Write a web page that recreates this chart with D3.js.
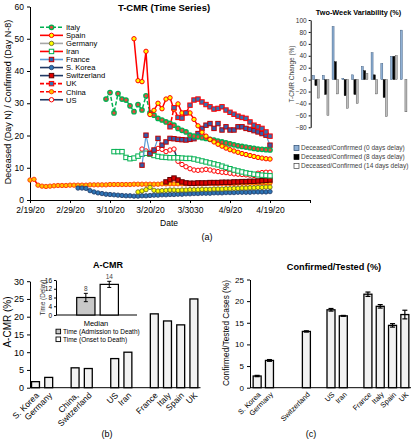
<!DOCTYPE html>
<html><head><meta charset="utf-8">
<script src="https://d3js.org/d3.v7.min.js"></script>
<style>
html,body{margin:0;padding:0;background:#fff;}
svg{display:block;}
text{font-family:"Liberation Sans",Arial,sans-serif;}
</style></head>
<body>
<svg id="chart" width="413" height="440"></svg>
<script>
// ---------------- DATA ----------------
const countries = ["Italy","Spain","Germany","Iran","France","S. Korea","Switzerland","UK","China","US"];
const startDates = ["2020-03-09","2020-03-16","2020-03-17","2020-03-11","2020-03-18","2020-03-02","2020-03-24","2020-03-25","2020-02-19","2020-03-18"];

const italyValues = [31.3,33.3,27.0,33.0,31.3,31.0,29.2,27.4,29.6,27.9,32.3,
  27.0,26.3,25.3,24.8,24.2,23.8,23.2,22.2,21.6,21.1,
  20.1,19.8,19.6,19.3,19.1,18.8,18.6,18.3,18.0,17.7,
  17.4,17.1,16.8,16.6,16.4,16.2,16.0,15.8,15.7,15.6,15.5];
const spainValues = [50.0,37.0,36.7,46.1,
  26.5,27.8,30.0,28.3,31.3,31.7,28.0,29.8,27.0,27.0,
  27.0,25.0,23.0,21.0,19.8,18.8,18.0,17.3,16.7,16.1,
  15.6,15.2,14.8,14.4,14.1,13.8,13.5,13.2,13.0,12.8,12.7];
const germanyValues = [2.5,2.8,3.2,3.9,
  3.0,2.8,2.9,3.0,3.1,3.1,3.0,3.1,3.1,3.2,
  3.2,3.2,3.3,3.3,3.3,3.4,3.4,3.4,3.5,3.5,
  3.6,3.6,3.7,3.7,3.8,3.8,3.9,3.9,4.0,4.0];
const iranValues = [15.0,15.0,15.0,13.2,12.8,13.0,13.6,14.2,14.5,
  14.2,13.8,13.5,13.3,13.2,13.1,13.1,13.1,13.0,12.9,
  12.9,12.7,12.4,12.1,11.8,11.5,11.2,10.9,10.5,10.1,
  9.7,9.3,9.0,8.7,8.4,8.2,8.0,7.8,7.7,7.6,7.5];
const franceValues = [10.8,20.1,
  14.4,15.5,19.1,17.0,18.0,19.1,19.0,18.8,18.7,18.6,
  18.8,19.0,20.6,22.2,23.2,23.7,22.2,23.7,21.7,22.7,
  21.7,21.7,22.7,22.7,22.2,21.9,21.5,21.1,20.6,20.1,17.0];
const koreaValues = [3.7,3.7,3.6,2.9,2.5,2.2,2.0,1.8,1.7,
  1.6,1.5,1.4,1.3,1.3,1.2,1.2,1.3,1.3,1.4,
  1.5,1.5,1.6,1.6,1.7,1.7,1.8,1.8,1.9,1.9,
  2.0,2.0,2.1,2.1,2.1,2.2,2.2,2.2,2.3,2.3,
  2.3,2.4,2.4,2.4,2.4,2.5,2.5,2.5,2.5,2.6];
const switzerlandValues = [5.6,6.3,6.8,6.2,5.6,5.3,5.2,
  5.2,5.3,5.3,5.3,5.4,5.4,5.4,5.5,5.5,5.5,
  5.6,5.6,5.7,5.7,5.8,5.8,5.9,6.0,6.1,6.2];
const ukValues = [22.7,28.6,25.6,25.4,27.0,29.4,
  31.0,31.3,30.4,29.6,28.9,28.2,28.4,28.9,27.9,27.2,
  26.6,26.0,25.6,25.3,24.2,23.2,22.7,22.2,21.1,19.8];
const chinaValues = [6.2,6.4,4.6,4.3,4.2,4.3,4.4,4.5,4.5,4.5,
  4.6,4.6,4.6,4.6,4.6,4.7,4.7,4.7,4.7,4.7,
  4.8,4.8,4.8,4.8,4.8,4.8,4.9,4.9,4.9,4.9,
  4.9,4.9,4.9,5.0,5.0,5.0,5.0,5.0,5.0,5.0,
  5.0,5.0,5.0,5.0,5.1,5.1,5.1,5.1,5.1,5.1,
  5.1,5.1,5.2,5.2,5.2,5.2,5.2,5.3,5.3,5.3,5.3];
const usValues = [15.8,15.2,14.8,15.2,16.0,15.7,15.0,15.5,15.8,12.0,11.0,10.3,9.7,9.3,
  9.2,9.3,9.5,9.3,9.0,8.8,8.6,8.5,8.3,8.1,8.0,7.9,7.8,7.7,7.6,8.3,8.5,8.6,8.6];

const dateTickValues = ["2020-02-19","2020-02-29","2020-03-10","2020-03-20","2020-03-30","2020-04-09","2020-04-19","2020-04-29"];
const dateTickLabels = ["2/19/20","2/29/20","3/10/20","3/20/20","3/3030","4/9/20","4/19/20",""];
const mainYTicks = [0,10,20,30,40,50,60];

const variabilityLabels = ["Deceased/Confirmed (0 days delay)","Deceased/Confirmed (8 days delay)","Deceased/Confirmed (14 days delay)"];
const variability0 = [7,7,89,2,8,22,45,27,39,83];
const variability8 = [-10,-25,30,-27,-25,15,8,-30,39,0];
const variability14 = [-31,-60,-24,-48,-40,10,-24,-62,40,-54];
const variabilityTicks = [-80,-60,-40,-20,0,20,40,60,80,100];

const barSlots = ["S. Korea","Germany","gap1","China","Switzerland","gap2","US","Iran","gap3","France","Italy","Spain","UK"];
const acmrLabels = ["S. Korea","Germany","","China,","Switzerland","","US","Iran","","France","Italy","Spain","UK"];
const acmrValues = [1.7,2.9,null,5.6,5.4,null,8.2,10.0,null,20.8,18.8,17.7,25.0];
const acmrTicks = [0,5,10,15,20,25,30];

const delayCategories = ["Time (Admission to Death)","Time (Onset to Death)"];
const delayValues = [8,14];
const delayErrors = [1.9,1.4];
const delayTicks = [0,4,8,12,16];

const testedLabels = ["S. Korea","Germany","","","Switzerland","","US","Iran","","France","Italy","Spain","UK"];
const testedValues = [2.7,6.3,null,null,13.0,null,18.0,16.6,null,21.6,18.8,14.4,16.9];
const testedErrors = [0.15,0.2,null,null,0.15,null,0.3,0.1,null,0.5,0.4,0.4,1.0];
const testedTicks = [0,5,10,15,20,25];

// ---------------- STYLES ----------------
const seriesValues = [italyValues,spainValues,germanyValues,iranValues,franceValues,koreaValues,switzerlandValues,ukValues,chinaValues,usValues];
const seriesStyles = {
  "Italy":{line:"#00b050",dash:"4,2",legendLine:"#00b050",shape:"circle",fill:"#e8463c",stroke:"#00b050",sw:1.3},
  "Spain":{line:"#ff0000",dash:null,legendLine:"#ff0000",shape:"circle",fill:"#ffff00",stroke:"#ff0000",sw:1},
  "Germany":{line:"#a6a6a6",dash:null,legendLine:"#a6a6a6",shape:"circle",fill:"#ffff00",stroke:"#5a5a20",sw:0.8},
  "Iran":{line:"#6fd07f",dash:null,legendLine:"#ff0000",shape:"square",fill:"#ffffff",stroke:"#00b050",sw:1},
  "France":{line:"#5b9bd5",dash:null,legendLine:"#5b9bd5",shape:"square",fill:"#2f5fb0",stroke:"#c00000",sw:1},
  "S. Korea":{line:"#1f3864",dash:null,legendLine:"#1f3864",shape:"circle",fill:"#2e75b6",stroke:"#1f3864",sw:0.8},
  "Switzerland":{line:"#1f3864",dash:null,legendLine:"#1f3864",shape:"square",fill:"#e00000",stroke:"#600000",sw:1},
  "UK":{line:"#ff0000",dash:"4,2",legendLine:"#ff0000",shape:"square",fill:"#2e75b6",stroke:"#ff0000",sw:1},
  "China":{line:"#ff0000",dash:"4,2",legendLine:"#ff0000",shape:"circle",fill:"#ffc000",stroke:"#ff3300",sw:0.9},
  "US":{line:"#1f3864",dash:null,legendLine:"#1f3864",shape:"circle",fill:"#ffffff",stroke:"#ff0000",sw:1}
};
const drawOrder = ["US","China","Switzerland","S. Korea","Germany","Iran","France","Italy","Spain","UK"];

const svg = d3.select("#chart");
const parseDate = d3.utcParse("%Y-%m-%d");

function styleAxis(g, size, family){
  g.attr("font-family", family || "Liberation Sans, Arial, sans-serif").attr("font-size", size);
  g.selectAll("path,line").attr("stroke","#000");
  g.selectAll("text").attr("fill","#000");
}
function marker(sel, st, x, y){
  if(st.shape==="circle"){
    sel.append("circle").attr("cx",x).attr("cy",y).attr("r",2.2)
      .attr("fill",st.fill).attr("stroke",st.stroke).attr("stroke-width",st.sw);
  } else {
    sel.append("rect").attr("x",x-2.2).attr("y",y-2.2).attr("width",4.4).attr("height",4.4)
      .attr("fill",st.fill).attr("stroke",st.stroke).attr("stroke-width",st.sw);
  }
}

// ---------------- PANEL A: T-CMR time series ----------------
const xMain = d3.scaleUtc().domain([parseDate("2020-02-19"), parseDate("2020-04-29")]).range([30,310]);
const yMain = d3.scaleLinear().domain([0,60]).range([200,6.5]);

const gxA = svg.append("g").attr("transform","translate(0,200)")
  .call(d3.axisBottom(xMain).tickValues(dateTickValues.map(parseDate)).tickFormat((d,i)=>dateTickLabels[i]).tickSize(3).tickSizeOuter(0).tickPadding(4));
styleAxis(gxA, 8.5);
const gyA = svg.append("g").attr("transform","translate(30,0)")
  .call(d3.axisLeft(yMain).tickValues(mainYTicks).tickSize(3).tickSizeOuter(0).tickPadding(3));
styleAxis(gyA, 8.5);

const lineGen = d3.line().x(d=>xMain(d.date)).y(d=>yMain(d.v));
const plotA = svg.append("g");
drawOrder.forEach(name=>{
  const i = countries.indexOf(name);
  const st = seriesStyles[name];
  const start = parseDate(startDates[i]);
  const pts = seriesValues[i].map((v,k)=>({date:d3.utcDay.offset(start,k), v}));
  plotA.append("path").datum(pts).attr("d",lineGen).attr("fill","none")
    .attr("stroke",st.line).attr("stroke-width",name==="France"?1.2:1.5)
    .attr("stroke-dasharray",st.dash);
  const mg = plotA.append("g");
  pts.forEach(p=>marker(mg, st, xMain(p.date), yMain(p.v)));
});

// legend
const legA = svg.append("g");
countries.forEach((name,i)=>{
  const st = seriesStyles[name];
  const y = 27.3 + i*8.05;
  legA.append("line").attr("x1",40).attr("x2",63).attr("y1",y).attr("y2",y)
    .attr("stroke",st.legendLine).attr("stroke-width",1.6).attr("stroke-dasharray",st.dash);
  marker(legA, st, 51.5, y);
  legA.append("text").attr("x",66).attr("y",y+2.8).attr("font-size",7.6).attr("fill","#000").text(name);
});

svg.append("text").attr("x",164).attr("y",11).attr("text-anchor","middle").attr("font-size",9.5).attr("font-weight","bold").text("T-CMR (Time Series)");
svg.append("text").attr("transform","translate(11,102) rotate(-90)").attr("text-anchor","middle").attr("font-size",9).text("Deceased (Day N) / Confirmed (Day N-8)");
svg.append("text").attr("x",169).attr("y",225.5).attr("text-anchor","middle").attr("font-size",8.5).text("Date");
svg.append("text").attr("x",207).attr("y",239.5).attr("text-anchor","middle").attr("font-size",9).text("(a)");

// ---------------- INSET: Two-week variability ----------------
const xVar = d3.scaleBand().domain(countries).range([311,408.5]);
const yVar = d3.scaleLinear().domain([-80,100]).range([127.3,20]);
const gyV = svg.append("g").attr("transform","translate(310.7,0)")
  .call(d3.axisLeft(yVar).tickValues(variabilityTicks).tickSize(2).tickSizeOuter(0).tickPadding(2));
styleAxis(gyV, 6.5);
gyV.selectAll("text").attr("fill","#333");
const varSeries = [variability0, variability8, variability14];
const varFill = ["#8fb0d4","#000000","#bfbfbf"];
const varStroke = ["#2a4a6f","#000000","#404040"];
const varOffset = [-2.3,0,2.3];
varSeries.forEach((vals,s)=>{
  svg.append("g").selectAll("rect").data(vals).join("rect")
    .attr("x",(d,i)=>xVar(countries[i])+xVar.bandwidth()/2+varOffset[s]-1)
    .attr("width",2)
    .attr("y",d=>yVar(Math.max(0,d)))
    .attr("height",d=>Math.abs(yVar(d)-yVar(0)))
    .attr("fill",varFill[s]).attr("stroke",varStroke[s]).attr("stroke-width",0.4);
});
svg.append("text").attr("x",358.5).attr("y",14.5).attr("text-anchor","middle").attr("font-size",7.3).attr("font-weight","bold").text("Two-Week Variability (%)");
svg.append("text").attr("transform","translate(294,74) rotate(-90)").attr("text-anchor","middle").attr("font-size",6.5).attr("fill","#404040").text("T-CMR Change (%)");
const legV = svg.append("g");
variabilityLabels.forEach((lab,s)=>{
  const y = 148 + s*9;
  legV.append("rect").attr("x",294).attr("y",y-2.5).attr("width",5).attr("height",5)
    .attr("fill",s===2?"#ffffff":varFill[s]).attr("stroke",s===2?"#404040":varStroke[s]).attr("stroke-width",0.7);
  legV.append("text").attr("x",301).attr("y",y+2.3).attr("font-size",6.5).attr("fill","#404040").text(lab);
});

// ---------------- PANEL B: A-CMR ----------------
const xB = d3.scaleBand().domain(barSlots).range([28.9,200.5]).paddingInner(0.4).paddingOuter(0.2);
const yB = d3.scaleLinear().domain([0,30]).range([387.7,281.2]);
const gyB = svg.append("g").attr("transform","translate(30,0)")
  .call(d3.axisLeft(yB).tickValues(acmrTicks).tickSize(3).tickSizeOuter(0).tickPadding(3));
styleAxis(gyB, 9);
svg.append("line").attr("x1",30).attr("x2",200.5).attr("y1",387.7).attr("y2",387.7).attr("stroke","#000").attr("stroke-width",1);
svg.append("g").selectAll("rect").data(barSlots.map((s,i)=>({s,v:acmrValues[i]})).filter(d=>d.v!=null)).join("rect")
  .attr("x",d=>xB(d.s)).attr("width",xB.bandwidth())
  .attr("y",d=>yB(d.v)).attr("height",d=>yB(0)-yB(d.v))
  .attr("fill","#f2f2f2").attr("stroke","#000").attr("stroke-width",1.3);
svg.append("g").selectAll("text").data(barSlots.map((s,i)=>({s,label:acmrLabels[i]})).filter(d=>d.label)).join("text")
  .attr("transform",d=>`translate(${xB(d.s)+xB.bandwidth()/2+4},${396}) rotate(-45)`)
  .attr("text-anchor","end").attr("font-size",8.5).text(d=>d.label);
svg.append("text").attr("x",108).attr("y",268).attr("text-anchor","middle").attr("font-size",9).attr("font-weight","bold").text("A-CMR");
svg.append("text").attr("transform","translate(11,322) rotate(-90)").attr("text-anchor","middle").attr("font-size",10).text("A-CMR (%)");
svg.append("text").attr("x",107).attr("y",437).attr("text-anchor","middle").attr("font-size",9).text("(b)");

// inset delay
const xI = d3.scaleBand().domain(delayCategories).range([76.7,118.4]).paddingInner(0.22).paddingOuter(0);
const yI = d3.scaleLinear().domain([0,16]).range([315,280]);
const gyI = svg.append("g").attr("transform","translate(56,0)")
  .call(d3.axisLeft(yI).tickValues(delayTicks).tickSize(2).tickSizeOuter(0).tickPadding(2));
styleAxis(gyI, 6.5);
svg.append("line").attr("x1",56).attr("x2",137).attr("y1",315).attr("y2",315).attr("stroke","#000");
const delayFill = ["#c8c8c8","#ffffff"];
svg.append("g").selectAll("rect").data(delayCategories).join("rect")
  .attr("x",d=>xI(d)).attr("width",xI.bandwidth())
  .attr("y",(d,i)=>yI(delayValues[i])).attr("height",(d,i)=>yI(0)-yI(delayValues[i]))
  .attr("fill",(d,i)=>delayFill[i]).attr("stroke","#000").attr("stroke-width",1.2);
delayCategories.forEach((c,i)=>{
  const cx = xI(c)+xI.bandwidth()/2;
  const y1 = yI(delayValues[i]+delayErrors[i]), y2 = yI(delayValues[i]-delayErrors[i]);
  svg.append("line").attr("x1",cx).attr("x2",cx).attr("y1",y1).attr("y2",y2).attr("stroke","#000").attr("stroke-width",1);
  [y1,y2].forEach(yy=>svg.append("line").attr("x1",cx-2).attr("x2",cx+2).attr("y1",yy).attr("y2",yy).attr("stroke","#000").attr("stroke-width",1));
  svg.append("text").attr("x",cx).attr("y",y1-2.5).attr("text-anchor","middle").attr("font-size",6.5).attr("fill","#444").text(delayValues[i]);
});
svg.append("text").attr("transform","translate(45,297.5) rotate(-90)").attr("text-anchor","middle").attr("font-size",6.3).attr("fill","#333").text("Time (Delay)");
svg.append("text").attr("x",96).attr("y",325.5).attr("text-anchor","middle").attr("font-size",7.5).text("Median");
delayCategories.forEach((c,i)=>{
  const y = 331.5 + i*7.8;
  svg.append("rect").attr("x",56).attr("y",y-2.3).attr("width",4.6).attr("height",4.6)
    .attr("fill",delayFill[i]).attr("stroke","#000").attr("stroke-width",0.9);
  svg.append("text").attr("x",63).attr("y",y+2.3).attr("font-size",6.5).text(c);
});

// ---------------- PANEL C: Confirmed/Tested ----------------
const fontC = "Open Sans, Liberation Sans, sans-serif";
const xC = d3.scaleBand().domain(barSlots).range([251,411]).paddingInner(0.35).paddingOuter(0.175);
const yC = d3.scaleLinear().domain([0,25]).range([387.7,279.5]);
const gyC = svg.append("g").attr("transform","translate(250,0)")
  .call(d3.axisLeft(yC).tickValues(testedTicks).tickSize(3).tickSizeOuter(0).tickPadding(3));
styleAxis(gyC, 8, fontC);
svg.append("line").attr("x1",250).attr("x2",411).attr("y1",387.7).attr("y2",387.7).attr("stroke","#000");
const cData = barSlots.map((s,i)=>({s,v:testedValues[i],e:testedErrors[i]})).filter(d=>d.v!=null);
svg.append("g").selectAll("rect").data(cData).join("rect")
  .attr("x",d=>xC(d.s)).attr("width",xC.bandwidth())
  .attr("y",d=>yC(d.v)).attr("height",d=>yC(0)-yC(d.v))
  .attr("fill","#f2f2f2").attr("stroke","#000").attr("stroke-width",1.3);
cData.forEach(d=>{
  const cx = xC(d.s)+xC.bandwidth()/2;
  const y1 = yC(d.v+d.e), y2 = yC(d.v-d.e);
  svg.append("line").attr("x1",cx).attr("x2",cx).attr("y1",y1).attr("y2",y2).attr("stroke","#000").attr("stroke-width",1.2);
  [y1,y2].forEach(yy=>svg.append("line").attr("x1",cx-2.5).attr("x2",cx+2.5).attr("y1",yy).attr("y2",yy).attr("stroke","#000").attr("stroke-width",1.2));
});
svg.append("g").selectAll("text").data(barSlots.map((s,i)=>({s,label:testedLabels[i]})).filter(d=>d.label)).join("text")
  .attr("transform",d=>`translate(${xC(d.s)+xC.bandwidth()/2+4},${395}) rotate(-45)`)
  .attr("text-anchor","end").attr("font-family",fontC).attr("font-size",7.3).text(d=>d.label);
svg.append("text").attr("x",334).attr("y",270).attr("text-anchor","middle").attr("font-size",9.2).attr("font-weight","bold").text("Confirmed/Tested (%)");
svg.append("text").attr("transform","translate(229,333) rotate(-90)").attr("text-anchor","middle").attr("font-family",fontC).attr("font-size",8.3).text("Confirmed/Tested Cases (%)");
svg.append("text").attr("x",311).attr("y",437).attr("text-anchor","middle").attr("font-family",fontC).attr("font-size",9).text("(c)");
</script>
</body></html>
